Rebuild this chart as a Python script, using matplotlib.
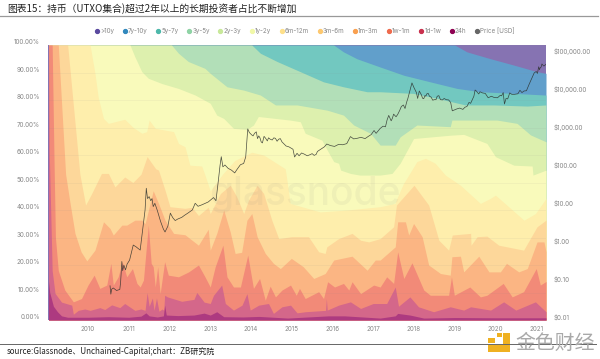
import matplotlib
matplotlib.use("Agg")
import matplotlib.pyplot as plt
from matplotlib.lines import Line2D
from matplotlib.patches import Rectangle
from matplotlib.transforms import ScaledTranslation

plt.rcParams['font.family'] = ['Inter', 'Noto Sans CJK SC', 'DejaVu Sans']

title = "图表15：持币（UTXO集合)超过2年以上的长期投资者占比不断增加"
source = "source:Glassnode、Unchained-Capital;chart：ZB研究院"
legend_labels = [">10y", "7y-10y", "5y-7y", "3y-5y", "2y-3y", "1y-2y", "6m-12m", "3m-6m", "1m-3m", "1w-1m", "1d-1w", "24h", "Price [USD]"]
legend_colors = ["#5a4a9f", "#3288bd", "#4db8aa", "#8fd3a5", "#c8e89a", "#f1f8a8", "#fee08b", "#fdc86f", "#f9a04f", "#ee6a4d", "#c9304d", "#8e0152", "#666666"]
year_ticks = list(range(2010, 2022))
pct_ticks = list(range(0, 101, 10))
price_ticks = [0.01, 0.1, 1, 10, 100, 1000, 10000, 100000]
price_labels = ["$0.01", "$0.10", "$1.00", "$10.00", "$100.00", "$1,000.00", "$10,000.00", "$100,000.00"]

x_24h = [2009.03, 2009.06, 2009.15, 2009.25, 2009.35, 2009.5, 2010.0, 2010.5, 2011.0, 2011.3, 2011.42, 2011.5, 2011.7, 2011.85, 2011.88, 2011.92, 2012.2, 2012.6, 2012.85, 2013.0, 2013.16, 2013.33, 2013.8, 2014.2, 2014.9, 2015.9, 2016.3, 2017.17, 2017.54, 2017.6, 2017.9, 2018.24, 2019.0, 2020.0, 2021.24]
y_24h = [14, 10, 5, 3, 1.5, 1.0, 1.0, 1.2, 1.0, 1.4, 2.6, 1.5, 1.1, 1.5, 5.4, 1.8, 1.6, 1.8, 2.5, 1.8, 3.0, 1.2, 1.1, 1.3, 0.7, 1.5, 1.5, 0.7, 1.5, 2.4, 1.8, 0.7, 0.9, 0.8, 0.8]

x_1d1w = [2009.03, 2009.05, 2009.09, 2009.12, 2009.19, 2009.35, 2009.6, 2009.64, 2009.76, 2009.92, 2010.05, 2010.17, 2010.29, 2010.41, 2010.58, 2010.78, 2010.9, 2011.15, 2011.3, 2011.4, 2011.45, 2011.5, 2011.58, 2011.62, 2011.68, 2011.74, 2011.82, 2011.86, 2011.88, 2011.95, 2012.3, 2012.6, 2012.67, 2012.85, 2013.0, 2013.08, 2013.28, 2013.37, 2013.57, 2013.78, 2013.9, 2013.98, 2014.19, 2014.43, 2014.55, 2014.76, 2014.97, 2015.13, 2015.33, 2015.83, 2015.85, 2015.87, 2016.15, 2016.44, 2016.69, 2017.0, 2017.17, 2017.33, 2017.54, 2017.62, 2017.9, 2018.11, 2018.48, 2018.89, 2019.22, 2019.39, 2019.88, 2020.2, 2020.5, 2020.98, 2021.24]
y_1d1w = [100, 60, 36, 18, 9.7, 6.5, 5.4, 2.1, 3.5, 4, 3.5, 4, 4.5, 3.8, 5.5, 4.5, 6, 3.5, 4, 3.5, 10, 5, 8, 3.5, 8, 3.2, 4, 3.5, 9, 8.4, 6.8, 7.5, 10, 6.5, 6, 9, 12.7, 6, 3.6, 5.4, 9.6, 3.6, 5.4, 6, 2.4, 4.8, 5.4, 2.6, 3.0, 3.5, 7.8, 3.6, 5.4, 6.6, 4.2, 6, 6, 6, 12, 5, 8.4, 4.8, 3, 4.8, 3.6, 4.8, 3.6, 6.6, 3.6, 6.6, 3]

x_1w1m = [2009.03, 2009.12, 2009.17, 2009.2, 2009.27, 2009.43, 2009.64, 2009.84, 2010.0, 2010.15, 2010.29, 2010.46, 2010.56, 2010.62, 2010.74, 2010.84, 2010.95, 2011.09, 2011.2, 2011.28, 2011.36, 2011.48, 2011.55, 2011.6, 2011.65, 2011.71, 2011.77, 2011.88, 2011.97, 2012.22, 2012.47, 2012.71, 2012.87,
          2013.0, 2013.12, 2013.31, 2013.41, 2013.57, 2013.74, 2013.92, 2014.06, 2014.21, 2014.35, 2014.47, 2014.6, 2014.76, 2014.97, 2015.11, 2015.19, 2015.33, 2015.66, 2015.78, 2015.88, 2016.05, 2016.27, 2016.4, 2016.48, 2016.69, 2017.01,
          2017.17, 2017.33, 2017.5, 2017.6, 2017.75, 2017.95, 2018.24, 2018.4, 2018.85, 2018.92, 2018.99, 2019.37, 2019.63, 2019.79, 2020.19, 2020.41, 2020.69, 2021.0, 2021.1, 2021.24]
y_1w1m = [100, 100, 54.5, 30, 18, 10.9, 6.6, 7.8, 12.7, 16.3, 11.5, 12.7, 20.6, 12.7, 15.7, 21.2, 15.7, 18.7, 13.3, 12, 14.5, 34.5, 20.6, 19.4, 12, 19.4, 9.6, 21.2, 16.3, 15.7, 17.5, 20, 15.7,
          12, 19.3, 27.2, 15.7, 12, 12, 23.6, 11.5, 15.1, 7.2, 12.3, 8.4, 10.9, 12.7, 9, 11.5, 7.8, 10.3, 7.8, 13.9, 12, 13.3, 10.9, 13.9, 9.6, 12.7,
          12, 15.7, 13.3, 24.8, 15.1, 20.8, 10.9, 9, 9, 15.7, 9, 12, 8.4, 9, 13.3, 8.4, 10.3, 18.7, 12.7, 14]

x_1m3m = [2009.03, 2009.27, 2009.45, 2009.56, 2009.68, 2009.83, 2009.97, 2010.17, 2010.38, 2010.54, 2010.62, 2010.83, 2010.95, 2011.15, 2011.32, 2011.4, 2011.5, 2011.6, 2011.73, 2011.89, 2012.1, 2012.38, 2012.71, 2012.95,
          2013.0, 2013.16, 2013.33, 2013.49, 2013.61, 2013.77, 2013.9, 2014.02, 2014.15, 2014.35, 2014.55, 2014.72, 2014.99, 2015.28, 2015.54, 2015.82, 2016.03, 2016.48, 2016.85, 2017.05,
          2017.17, 2017.54, 2017.6, 2017.79, 2017.87, 2017.99, 2018.2, 2018.36, 2018.65, 2018.89, 2018.93, 2019.14, 2019.22, 2019.59, 2019.84, 2020.12, 2020.27, 2020.57, 2020.78, 2021.02, 2021.19, 2021.24]
y_1m3m = [100, 100, 53, 42.4, 31.5, 24.8, 21.5, 25.4, 35.7, 33.3, 30.9, 34.5, 34.5, 36.3, 36.3, 35, 41, 47, 42.4, 36.3, 31.5, 31, 27.2, 33,
          25.4, 31.5, 40, 32, 24.2, 24.6, 36.3, 38.7, 30.3, 24.2, 20.6, 18.7, 22.4, 19.4, 15.1, 16.9, 21.8, 23.2, 18.1, 21.8,
          21.8, 26.6, 35.7, 35.7, 30.9, 35.1, 30.3, 20, 16.9, 16.3, 23, 23.2, 17.5, 23.2, 17.5, 17.5, 20.6, 17.5, 18.7, 28.4, 28.4, 24.8]

x_3m6m = [2009.03, 2009.5, 2009.8, 2009.94, 2010.09, 2010.33, 2010.5, 2010.66, 2010.9, 2011.1, 2011.3, 2011.45, 2011.66, 2011.73, 2011.89, 2012.01, 2012.38, 2012.55, 2012.71, 2012.95,
          2013.0, 2013.25, 2013.49, 2013.65, 2013.82, 2013.94, 2014.15, 2014.31, 2014.51, 2014.68, 2015.0, 2015.41, 2015.66, 2015.82, 2015.86, 2016.15, 2016.48, 2016.69, 2016.89, 2017.17,
          2017.5, 2017.57, 2018.0, 2018.36, 2018.61, 2018.85, 2018.94, 2019.39, 2019.4, 2019.55, 2019.79, 2020.08, 2020.69, 2021.02, 2021.24]
y_3m6m = [100, 100, 53, 41.8, 46, 53.3, 53.3, 48.4, 52, 50, 53, 59.4, 55, 54.5, 47.2, 41.2, 40.6, 41, 38, 41,
          38.7, 46, 49, 44.8, 38.7, 43.6, 49, 46, 36.3, 29.6, 30.3, 30.3, 24.8, 24.2, 26.6, 29.6, 31.5, 29, 28.4, 29.6,
          33.9, 41.8, 49, 41.8, 29, 25.4, 30.9, 31.5, 27.2, 30.3, 30.5, 27.2, 25.4, 33.9, 36.3]

x_6m12m = [2009.03, 2010.05, 2010.17, 2010.25, 2010.38, 2010.5, 2010.9, 2011.11, 2011.32, 2011.44, 2011.5, 2011.65, 2012.1, 2012.22, 2012.38, 2012.5, 2012.79, 2012.87, 2013.0, 2013.3, 2013.6, 2014.02, 2014.31, 2014.84, 2014.88, 2014.96, 2015.7, 2016.36, 2017.17, 2017.54, 2017.58, 2017.74, 2017.87, 2018.07, 2018.28, 2018.52, 2018.77, 2019.14, 2019.63, 2019.87, 2020.0, 2020.7, 2020.98, 2021.24]
y_6m12m = [100, 100, 89.7, 81, 73.3, 71.5, 73, 70, 67.9, 68.5, 72.7, 69.7, 68.5, 64.2, 63, 56.3, 56, 52.7, 47, 53, 58, 61, 60, 55, 51, 42.4, 39.3, 40, 41.2, 42.4, 44.2, 49.6, 52.7, 57.6, 58.8, 57, 52.7, 49, 42.4, 44.2, 45.4, 36.3, 38.7, 44.2]

x_1y2y = [2009.03, 2011.03, 2011.15, 2011.32, 2011.48, 2011.81, 2012.22, 2012.63, 2013.0, 2013.16, 2013.33, 2013.57, 2013.9, 2014.06, 2014.18, 2014.96, 2015.21, 2015.33, 2015.74, 2015.87, 2016.03, 2016.15, 2016.2, 2016.44, 2016.67, 2017.17, 2017.46, 2017.66, 2017.99, 2018.89, 2019.22, 2019.79, 2020.0, 2020.45, 2020.9, 2020.92, 2021.24]
y_1y2y = [100, 100, 95.7, 90.3, 87.9, 86, 84.2, 81.8, 78.8, 74.5, 73.3, 69.7, 69.3, 70.9, 74, 72.7, 72.1, 67.9, 65.4, 61.8, 57.6, 57, 54.5, 53.3, 52.7, 52.7, 53.3, 57, 66, 67.2, 67.5, 64.2, 59.4, 56.3, 56, 52.7, 54.5]

x_2y3y = [2009.03, 2012.05, 2012.22, 2012.46, 2012.87, 2013.0, 2013.41, 2013.82, 2014.23, 2014.6, 2015.13, 2015.87, 2016.27, 2016.52, 2016.93, 2017.17, 2017.54, 2017.66, 2018.07, 2018.89, 2018.93, 2020.04, 2020.53, 2020.86, 2021.24]
y_2y3y = [100, 100, 97, 94, 91.5, 89.7, 84.8, 83.6, 81.8, 78.2, 78.2, 76.3, 74.5, 70.9, 67.9, 63.6, 63.6, 66.6, 70.9, 70.3, 72.7, 72.7, 71.5, 67.3, 64.8]

x_3y5y = [2009.03, 2014.02, 2014.23, 2014.64, 2015.21, 2015.78, 2016.27, 2016.85, 2017.17, 2017.99, 2018.57, 2019.26, 2019.96, 2020.78, 2021.24]
y_3y5y = [100, 100, 97, 94, 90.3, 86.6, 84.8, 83, 83, 82.4, 80.6, 78.2, 78.2, 77.8, 78.2]

x_5y7y = [2009.03, 2016.03, 2016.27, 2016.6, 2017.17, 2017.5, 2017.75, 2018.4, 2019.06, 2019.63, 2020.45, 2021.24]
y_5y7y = [100, 100, 97.5, 95, 92, 90.3, 89, 86.6, 84.2, 83, 82.4, 81.8]

x_7y10y = [2009.03, 2019.0, 2019.3, 2019.88, 2020.45, 2021.02, 2021.24]
y_7y10y = [100, 100, 97.5, 95, 92.7, 90.3, 89.7]

x_gt10y = [2009.03, 2021.24]
y_gt10y = [100, 100]

price_x = [2010.54, 2010.56, 2010.58, 2010.62, 2010.7, 2010.78, 2010.8, 2010.83, 2010.85, 2010.88, 2010.92, 2010.96, 2011.02, 2011.11, 2011.18, 2011.28, 2011.32, 2011.36, 2011.4, 2011.43, 2011.46, 2011.5, 2011.54, 2011.57, 2011.6, 2011.64, 2011.7, 2011.78, 2011.85, 2011.89, 2011.96, 2012.02, 2012.08, 2012.14, 2012.3, 2012.45, 2012.56, 2012.63, 2012.7, 2012.8, 2012.95, 2013.08, 2013.2, 2013.24, 2013.27, 2013.31, 2013.36, 2013.44, 2013.52, 2013.6, 2013.66, 2013.74, 2013.82, 2013.87, 2013.92, 2013.96, 2014.02, 2014.09, 2014.16, 2014.22, 2014.28, 2014.36, 2014.43, 2014.52, 2014.6, 2014.68, 2014.76, 2014.86, 2014.93, 2015.03, 2015.07, 2015.13, 2015.3, 2015.45, 2015.55, 2015.63, 2015.8, 2015.86, 2015.95, 2016.15, 2016.35, 2016.44, 2016.52, 2016.6, 2016.8, 2016.95, 2017.02, 2017.1, 2017.17, 2017.24, 2017.3, 2017.38, 2017.44, 2017.5, 2017.56, 2017.6, 2017.69, 2017.78, 2017.85, 2017.95, 2018.0, 2018.06, 2018.09, 2018.13, 2018.18, 2018.24, 2018.29, 2018.35, 2018.42, 2018.5, 2018.57, 2018.65, 2018.74, 2018.85, 2018.9, 2018.94, 2019.05, 2019.2, 2019.3, 2019.39, 2019.47, 2019.5, 2019.56, 2019.62, 2019.75, 2019.9, 2020.05, 2020.12, 2020.19, 2020.22, 2020.3, 2020.4, 2020.55, 2020.6, 2020.7, 2020.82, 2020.95, 2021.0, 2021.06, 2021.1, 2021.14, 2021.19, 2021.24]
price_y = [0.08, 0.048, 0.065, 0.07, 0.06, 0.064, 0.1, 0.35, 0.2, 0.28, 0.21, 0.3, 0.38, 0.95, 0.85, 0.7, 1.6, 3.5, 8, 30, 16, 18, 14, 16, 9.8, 12, 7.8, 4, 2.5, 2.1, 3, 6.6, 5, 4.2, 5.1, 6.6, 8, 12, 10, 11, 13, 17, 49, 120, 204, 110, 123, 100, 90, 76, 95, 125, 135, 200, 1100, 880, 760, 850, 610, 640, 470, 620, 640, 560, 620, 590, 500, 390, 370, 320, 200, 250, 240, 230, 220, 280, 370, 440, 400, 430, 450, 690, 600, 620, 610, 780, 1000, 920, 1130, 1300, 1250, 2500, 1800, 2700, 2300, 2650, 4300, 3800, 7000, 18000, 13500, 10000, 7000, 11000, 8800, 6900, 8000, 9500, 7600, 6500, 8000, 6500, 7000, 6400, 5500, 3300, 3700, 3600, 4300, 5200, 8000, 11700, 10000, 10500, 9500, 8000, 7300, 8500, 10000, 5000, 6800, 9000, 9300, 11500, 11000, 16000, 33000, 36000, 48000, 46000, 57000, 50000, 56000]
jitter_x = [2012.2, 2012.37, 2013.14, 2014.05, 2014.13, 2014.19, 2014.25, 2014.32, 2014.4, 2014.47, 2014.56, 2014.64, 2014.72, 2014.81, 2015.18, 2015.24, 2015.38, 2015.5, 2015.6, 2016.05, 2016.25, 2016.7, 2016.88, 2017.07, 2017.34, 2017.47, 2017.53, 2017.65, 2017.74, 2017.82, 2018.21, 2018.27, 2018.32, 2018.38, 2018.46, 2018.54, 2018.61, 2018.7, 2018.79, 2019.12, 2019.25, 2019.35, 2019.53, 2019.59, 2019.68, 2019.82, 2019.97, 2020.15, 2020.26, 2020.35, 2020.47, 2020.65, 2020.76, 2021.03, 2021.08, 2021.12, 2021.17]
jitter_y = [4.6, 5.8, 14, 720, 920, 720, 500, 700, 530, 590, 640, 520, 610, 440, 215, 255, 215, 245, 235, 380, 420, 660, 700, 840, 1900, 2100, 2500, 3400, 4700, 5600, 7100, 8400, 9400, 8000, 6300, 6500, 8300, 6400, 6500, 3900, 4100, 5500, 11000, 9200, 9800, 7300, 7400, 8200, 7000, 9800, 9000, 10000, 11200, 32000, 40000, 47000, 52000]

_pairs = {k: (len(globals()["x_" + k]), len(globals()["y_" + k])) for k in
          ["24h", "1d1w", "1w1m", "1m3m", "3m6m", "6m12m", "1y2y", "2y3y", "3y5y", "5y7y", "7y10y", "gt10y"]}
_pairs["price"] = (len(price_x), len(price_y))
_pairs["jitter"] = (len(jitter_x), len(jitter_y))
_bad = {k: v for k, v in _pairs.items() if v[0] != v[1]}
if _bad:
    raise SystemExit("LENGTH MISMATCH " + str(_bad))

merged = sorted(zip(price_x + jitter_x, price_y + jitter_y))
price_line_x = [p[0] for p in merged]
price_line_y = [p[1] for p in merged]

series = [
    (x_gt10y, y_gt10y, "#8673b2"),
    (x_7y10y, y_7y10y, "#619fcb"),
    (x_5y7y, y_5y7y, "#72c8c0"),
    (x_3y5y, y_3y5y, "#b2dfb8"),
    (x_2y3y, y_2y3y, "#ddf0ae"),
    (x_1y2y, y_1y2y, "#f9fabb"),
    (x_6m12m, y_6m12m, "#feeeac"),
    (x_3m6m, y_3m6m, "#fdd79a"),
    (x_1m3m, y_1m3m, "#fbb583"),
    (x_1w1m, y_1w1m, "#f28a78"),
    (x_1d1w, y_1d1w, "#d4678a"),
    (x_24h, y_24h, "#ad3a80"),
]

W, H = 600, 359
fig = plt.figure(figsize=(W / 100, H / 100), dpi=100, facecolor="white")
ax = fig.add_axes([48.5 / W, 1 - 320 / H, 497.5 / W, 275 / H])
for xs, ys, c in series:
    ax.fill_between(xs, 0, ys, color=c, lw=0, zorder=2)
ax.set_xlim(2009.03, 2021.24)
ax.set_ylim(0, 100)
ax.set_yticks(pct_ticks)
ax.set_yticklabels([f"{v:.2f}%" for v in pct_ticks], fontsize=4.5, color="#888888")
ax.set_xticks(year_ticks)
ax.set_xticklabels([str(v) for v in year_ticks], fontsize=4.5, color="#888888")
ax.tick_params(axis="y", length=0, pad=6)
ax.tick_params(axis="x", length=0, pad=4)
ax.grid(axis="y", color="#888888", alpha=0.10, lw=0.5, zorder=3)
ax.set_axisbelow(False)
for s in ax.spines.values():
    s.set_visible(False)

ax2 = ax.twinx()
ax2.set_yscale("log")
ax2.set_ylim(0.01, 180000)
ax2.plot(price_line_x, price_line_y, color="#2b2f2b", lw=0.5, alpha=0.85, zorder=5)
ax2.set_yticks(price_ticks)
ax2.set_yticklabels(price_labels, fontsize=4.5, color="#888888")
ax2.minorticks_off()
ax2.tick_params(axis="y", length=0, pad=5.5)
for s in ax2.spines.values():
    s.set_visible(False)

up = ScaledTranslation(0, 2.5 / 72, fig.dpi_scale_trans)
for lab in ax.get_yticklabels() + ax2.get_yticklabels():
    lab.set_transform(lab.get_transform() + up)

ax.text(305 / W, 1 - 205 / H, "glassnode", transform=fig.transFigure, fontsize=28, color="#808080", alpha=0.08,
        ha="center", va="baseline", fontweight="medium", family="Inter", zorder=4)

handles = [Line2D([], [], ls="", marker="o", ms=2.8, mfc=c, mec=c) for c in legend_colors]
fig.legend(handles, legend_labels, loc="center", bbox_to_anchor=(304 / W, 1 - 30.5 / H), ncol=13, frameon=False,
           fontsize=4.5, labelcolor="#888888", handletextpad=-0.1, columnspacing=1.1, handlelength=1.2, borderpad=0)

fig.text(7 / W, 1 - 9 / H, title, fontsize=7.05, color="#222222", ha="left", va="center", family=["Noto Sans CJK SC"], fontweight="medium")
fig.text(7 / W, 1 - 351.5 / H, source, fontsize=5.8, color="#222222", ha="left", va="center", family=["Noto Sans CJK SC"])
fig.add_artist(Line2D([0, 598 / W], [1 - 15.5 / H] * 2, color="#999999", lw=0.9))
fig.add_artist(Line2D([0, 596 / W], [1 - 343.5 / H] * 2, color="#666666", lw=0.7))

for x0, y0, w, h in [(503, 333, 7, 19), (488, 345, 22, 7), (488, 338, 7, 5), (497, 333, 5, 4)]:
    fig.add_artist(Rectangle((x0 / W, 1 - (y0 + h) / H), w / W, h / H, transform=fig.transFigure, color="#efb121", lw=0))
fig.text(515 / W, 1 - 343 / H, "金色财经", fontsize=14.3, color="#a9a9a9", ha="left", va="center", family=["Noto Sans CJK SC"])

fig.savefig("out.png", dpi=100)
